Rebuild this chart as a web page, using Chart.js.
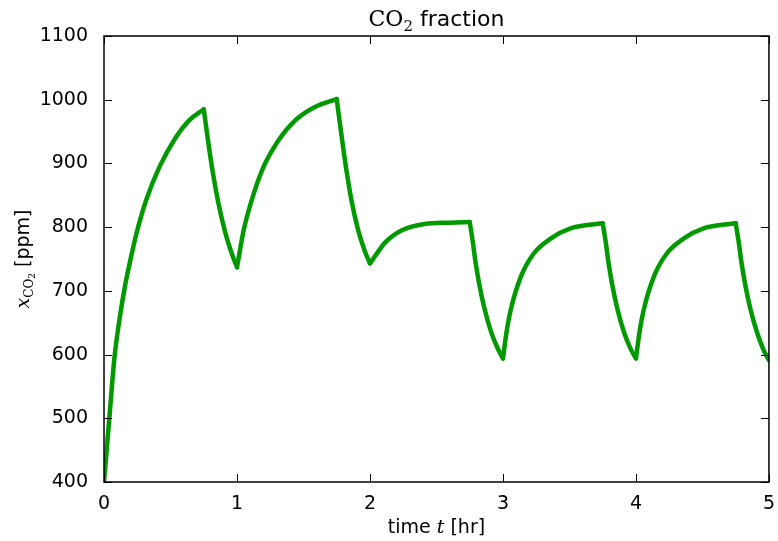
<!DOCTYPE html>
<html>
<head>
<meta charset="utf-8">
<script src="https://cdn.jsdelivr.net/npm/chart.js@4.4.0/dist/chart.umd.min.js"></script>
<style>
  html, body { margin: 0; padding: 0; background: #fff; }
  #wrap { width: 778px; height: 541px; }
</style>
</head>
<body>
<div id="wrap"><canvas id="co2-canvas" width="778" height="541"></canvas></div>
<script>
// time in hours
const timeHr = [
  0, 0.04, 0.08, 0.12, 0.16, 0.2, 0.244, 0.318, 0.418, 0.543, 0.642, 0.75,
  0.773, 0.793, 0.823, 0.86, 0.91, 0.96, 1.0,
  1.05, 1.1, 1.19, 1.315, 1.44, 1.59, 1.75,
  1.773, 1.793, 1.823, 1.86, 1.91, 1.96, 2.0,
  2.05, 2.11, 2.24, 2.41, 2.6, 2.75,
  2.773, 2.793, 2.823, 2.86, 2.91, 2.96, 3.0,
  3.025, 3.058, 3.134, 3.233, 3.358, 3.508, 3.75,
  3.773, 3.793, 3.823, 3.86, 3.91, 3.96, 4.0,
  4.025, 4.058, 4.134, 4.233, 4.358, 4.508, 4.75,
  4.773, 4.793, 4.823, 4.86, 4.91, 4.96, 5.0
];
// CO2 fraction in ppm
const co2Ppm = [
  400, 500, 598, 660, 710, 750, 790, 843, 895, 942, 968, 985,
  950, 920, 880, 838, 793, 759, 737,
  795, 835, 890, 937, 968, 989, 1001,
  964, 933, 889, 843, 796, 763, 743,
  758, 775, 795, 805, 807, 808,
  777, 746, 709, 673, 636, 610, 594,
  633, 670, 722, 759, 782, 798, 806,
  776, 745, 708, 672, 635, 609, 594,
  633, 670, 722, 759, 782, 798, 806,
  776, 745, 708, 672, 635, 607, 591
];
// times where the ventilation switches (sharp corners)
const switchTimes = [0.75, 1, 1.75, 2, 2.75, 3, 3.75, 4, 4.75];
const xTicks = [0, 1, 2, 3, 4, 5];
const yTicks = [400, 500, 600, 700, 800, 900, 1000, 1100];

const sans = '"DejaVu Sans", sans-serif';
const serif = '"DejaVu Serif", serif';

// draw a label made of runs with different fonts (for the math bits)
function drawRuns(ctx, runs, cx, cy, angle) {
  ctx.save();
  ctx.translate(cx, cy);
  if (angle) ctx.rotate(angle);
  ctx.textBaseline = 'alphabetic';
  ctx.textAlign = 'left';
  let total = 0;
  runs.forEach(r => { ctx.font = r.font; total += ctx.measureText(r.text).width; });
  let x = -total / 2;
  runs.forEach(r => {
    ctx.font = r.font;
    ctx.fillStyle = '#000';
    ctx.fillText(r.text, x, r.dy || 0);
    x += ctx.measureText(r.text).width;
  });
  ctx.restore();
}

const framePlugin = {
  id: 'frame',
  afterDraw(chart) {
    const ctx = chart.ctx;
    const a = chart.chartArea;
    const xs = chart.scales.x, ys = chart.scales.y;
    ctx.save();
    ctx.strokeStyle = '#000';
    ctx.lineWidth = 1;
    // inward ticks on all four sides
    ctx.beginPath();
    xTicks.forEach(v => {
      const px = Math.round(xs.getPixelForValue(v)) + 0.5;
      ctx.moveTo(px, a.bottom); ctx.lineTo(px, a.bottom - 8);
      ctx.moveTo(px, a.top); ctx.lineTo(px, a.top + 8);
    });
    yTicks.forEach(v => {
      const py = Math.round(ys.getPixelForValue(v)) + 0.5;
      ctx.moveTo(a.left, py); ctx.lineTo(a.left + 8, py);
      ctx.moveTo(a.right, py); ctx.lineTo(a.right - 8, py);
    });
    ctx.stroke();
    ctx.lineWidth = 1.5;
    ctx.strokeRect(a.left, a.top, a.right - a.left, a.bottom - a.top);
    ctx.restore();

    const midX = (a.left + a.right) / 2;
    drawRuns(ctx, [
      { text: 'CO', font: '22px ' + serif },
      { text: '2', font: '15px ' + serif, dy: 5 },
      { text: ' fraction', font: '22px ' + sans }
    ], midX, 26);
    drawRuns(ctx, [
      { text: 'time ', font: '19px ' + sans },
      { text: 't', font: 'italic 19px ' + serif },
      { text: ' [hr]', font: '19px ' + sans }
    ], midX, 533);
    drawRuns(ctx, [
      { text: 'x', font: 'italic 19px ' + serif },
      { text: 'CO', font: '12px ' + serif, dy: 4 },
      { text: '2', font: '9px ' + serif, dy: 6 },
      { text: ' [ppm]', font: '19px ' + sans }
    ], 29, (a.top + a.bottom) / 2, -Math.PI / 2);
  }
};

// split the curve into smooth pieces between the switching times
const bounds = [0, ...switchTimes, 5];
const datasets = [];
for (let k = 0; k < bounds.length - 1; k++) {
  const pts = [];
  timeHr.forEach((t, i) => {
    if (t >= bounds[k] - 1e-9 && t <= bounds[k + 1] + 1e-9) pts.push({ x: t, y: co2Ppm[i] });
  });
  datasets.push({
    data: pts,
    borderColor: '#009a00',
    borderWidth: 4.5,
    borderCapStyle: 'round',
    borderJoinStyle: 'round',
    pointRadius: 0,
    cubicInterpolationMode: 'monotone',
    fill: false
  });
}

new Chart(document.getElementById('co2-canvas').getContext('2d'), {
  type: 'line',
  data: { datasets: datasets },
  options: {
    responsive: false,
    animation: false,
    layout: { padding: { top: 36, right: 5, left: 0, bottom: 0 } },
    plugins: { legend: { display: false }, tooltip: { enabled: false } },
    scales: {
      x: {
        type: 'linear', min: 0, max: 5,
        afterFit(s) { s.height = 59; },
        afterBuildTicks(s) { s.ticks = xTicks.map(v => ({ value: v })); },
        grid: { display: false },
        border: { display: false },
        ticks: { color: '#000', font: { family: sans, size: 19 }, padding: 3,
                 callback: v => String(v) }
      },
      y: {
        type: 'linear', min: 400, max: 1100,
        afterFit(s) { s.width = 104; },
        afterBuildTicks(s) { s.ticks = yTicks.map(v => ({ value: v })); },
        grid: { display: false },
        border: { display: false },
        ticks: { color: '#000', font: { family: sans, size: 19 }, padding: 8,
                 callback: v => String(v) }
      }
    }
  },
  plugins: [framePlugin]
});
</script>
</body>
</html>
